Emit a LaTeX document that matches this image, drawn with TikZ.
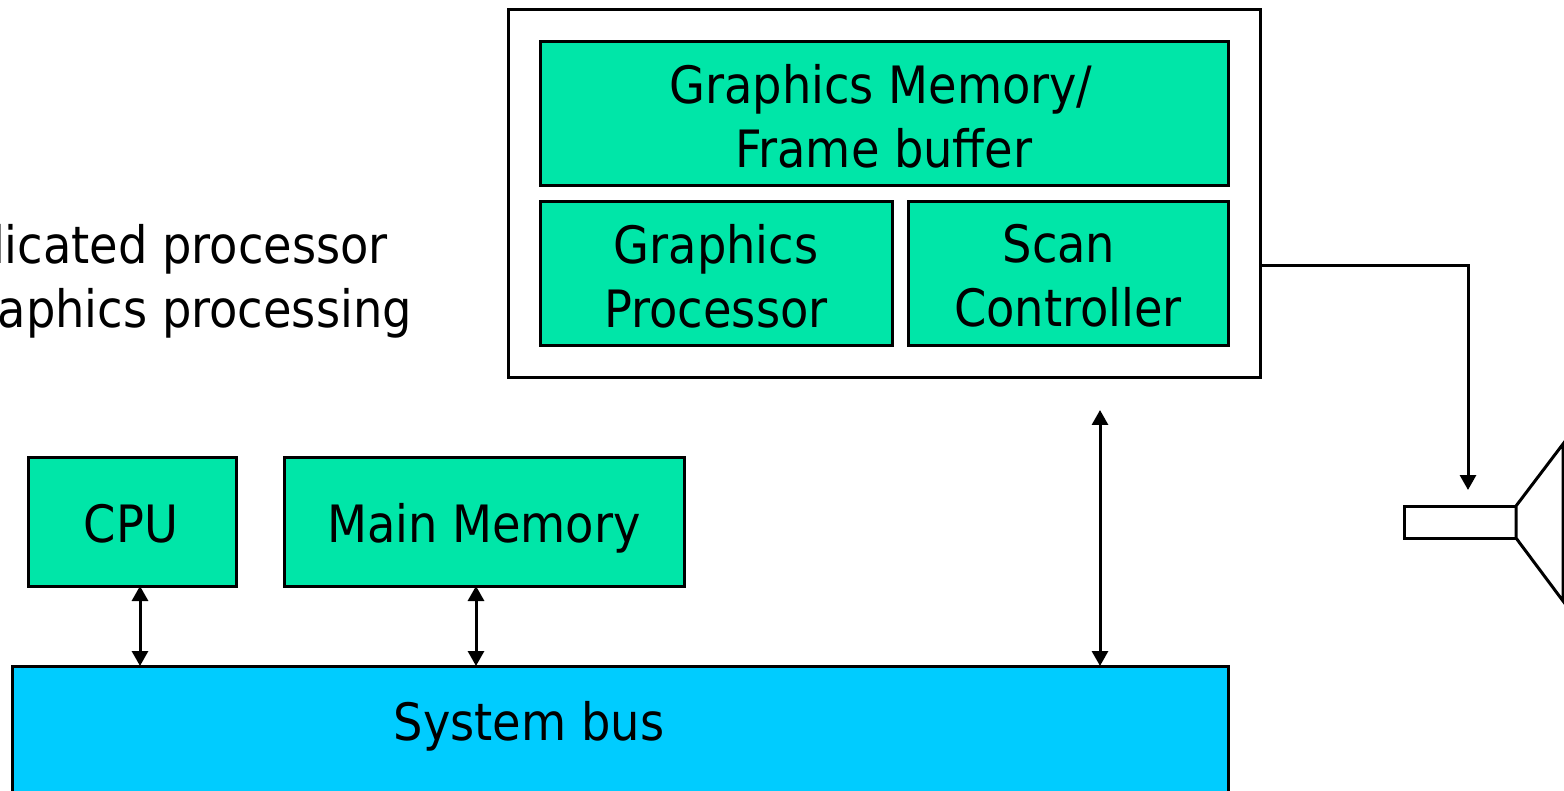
\documentclass[tikz,border=0pt]{standalone}
\usepackage{fontspec}
\setmainfont{DejaVu Sans Condensed}
\usetikzlibrary{arrows.meta}
\definecolor{boxgreen}{RGB}{0,230,168}
\definecolor{busblue}{RGB}{0,204,255}
\tikzset{
  x=1pt,y=-1pt,
  greenbox/.style={draw=black,line width=3pt,fill=boxgreen,anchor=north west,inner sep=0pt,align=center},
  busbox/.style={draw=black,line width=3pt,fill=busblue,anchor=north west,inner sep=0pt},
  frame/.style={draw=black,line width=3pt,fill=white,anchor=north west,inner sep=0pt},
  lbl/.style={font=\fontsize{51.5}{64}\selectfont,text=black,align=center},
  link/.style={draw=black,line width=3pt,{Triangle[length=15pt,width=16pt]}-{Triangle[length=15pt,width=16pt]}},
  oneway/.style={draw=black,line width=3pt,-{Triangle[length=15pt,width=16pt]}},
  plain/.style={draw=black,line width=3pt,fill=white,line join=miter}
}
\begin{document}
\begin{tikzpicture}
\path[use as bounding box] (0,0) rectangle (1564,791);
\clip (0,0) rectangle (1564,791);
\node[frame,minimum width=752pt,minimum height=368pt] (card) at (506.5,8.5) {};
\node[greenbox,minimum width=688pt,minimum height=144pt] (mem) at (538.5,40.5) {};
\node[greenbox,minimum width=352pt,minimum height=144pt] (gp) at (538.5,200.5) {};
\node[greenbox,minimum width=320pt,minimum height=144pt] (sc) at (906.5,200.5) {};
\node[greenbox,minimum width=208pt,minimum height=128pt] (cpu) at (26.5,456.5) {};
\node[greenbox,minimum width=400pt,minimum height=128pt] (mm) at (282.5,456.5) {};
\node[busbox,minimum width=1216pt,minimum height=140pt] (bus) at (10.5,664.5) {};
\node[lbl] (t1) at (881,116) {Graphics Memory/\\\hspace*{6pt}Frame buffer};
\node[lbl] (t2) at (716,276) {Graphics\\Processor};
\node[lbl] (t3) at (1068,276) {Scan\hspace*{18pt}\\Controller};
\node[lbl,anchor=base] (t4) at (131,542) {CPU};
\node[lbl,anchor=base] (t5) at (484,542) {Main Memory};
\node[lbl,anchor=base] (t6) at (529,740) {System bus};
\node[lbl,anchor=base east,inner sep=0pt] (t7) at (388,264) {licated processor};
\node[lbl,anchor=base east,inner sep=0pt] (t8) at (412,328) {aphics processing};
\coordinate (a1) at (140,586);
\coordinate (a2) at (140,666);
\coordinate (b1) at (476,586);
\coordinate (b2) at (476,666);
\coordinate (c1) at (1100,410);
\coordinate (c2) at (1100,666);
\coordinate (d1) at (1260,266);
\coordinate (d2) at (1468,266);
\coordinate (d3) at (1468,490);
\draw[link] (a1) -- (a2);
\draw[link] (b1) -- (b2);
\draw[link] (c1) -- (c2);
\draw[oneway] (d1) -- (d2) -- (d3);
\node[plain,anchor=north west,inner sep=0pt,minimum width=112pt,minimum height=32pt] (neck) at (1402.5,504.5) {};
\coordinate (h1) at (1516,506);
\coordinate (h2) at (1516,538);
\draw[plain] (h1) -- (1563,444) -- (1563,601) -- (h2) -- cycle;
\end{tikzpicture}
\end{document}
